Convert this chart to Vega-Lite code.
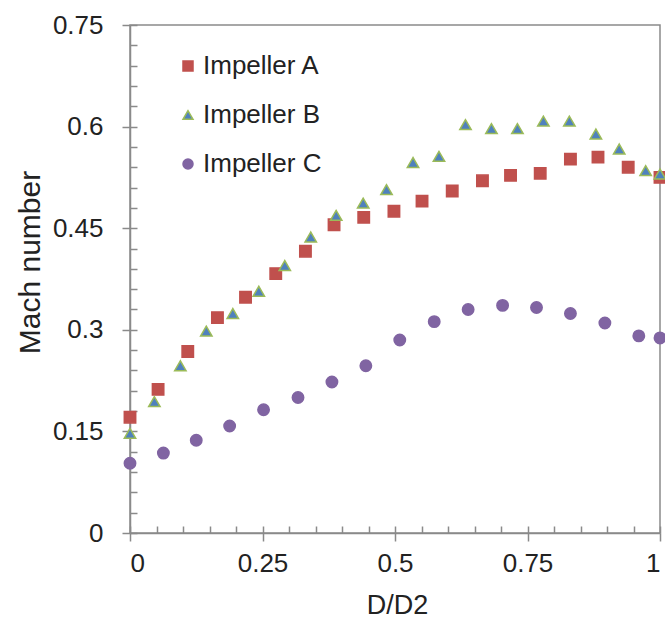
{
  "$schema": "https://vega.github.io/schema/vega-lite/v6.json",
  "width": 530,
  "height": 508,
  "autosize": {"type": "none"},
  "padding": {"left": 130, "top": 25, "right": 5, "bottom": 94},
  "background": "white",
  "config": {
    "view": {"stroke": "#8a8a8a", "strokeWidth": 1.5},
    "font": "Liberation Sans",
    "axis": {"domainColor": "#8a8a8a", "tickColor": "#8a8a8a", "domainWidth": 1.5, "tickWidth": 1.5, "grid": false}
  },
  "data": {
    "values": [
      {"series": "Impeller A", "x": 0.0, "y": 0.171},
      {"series": "Impeller A", "x": 0.053, "y": 0.212},
      {"series": "Impeller A", "x": 0.109, "y": 0.268},
      {"series": "Impeller A", "x": 0.165, "y": 0.318},
      {"series": "Impeller A", "x": 0.218, "y": 0.348},
      {"series": "Impeller A", "x": 0.275, "y": 0.383},
      {"series": "Impeller A", "x": 0.331, "y": 0.416},
      {"series": "Impeller A", "x": 0.385, "y": 0.455},
      {"series": "Impeller A", "x": 0.441, "y": 0.466},
      {"series": "Impeller A", "x": 0.498, "y": 0.475},
      {"series": "Impeller A", "x": 0.551, "y": 0.49},
      {"series": "Impeller A", "x": 0.608, "y": 0.505},
      {"series": "Impeller A", "x": 0.665, "y": 0.52},
      {"series": "Impeller A", "x": 0.718, "y": 0.528},
      {"series": "Impeller A", "x": 0.774, "y": 0.531},
      {"series": "Impeller A", "x": 0.831, "y": 0.552},
      {"series": "Impeller A", "x": 0.883, "y": 0.555},
      {"series": "Impeller A", "x": 0.94, "y": 0.54},
      {"series": "Impeller A", "x": 1.0, "y": 0.525},
      {"series": "Impeller B", "x": 0.0, "y": 0.147},
      {"series": "Impeller B", "x": 0.046, "y": 0.194},
      {"series": "Impeller B", "x": 0.095, "y": 0.247},
      {"series": "Impeller B", "x": 0.144, "y": 0.298},
      {"series": "Impeller B", "x": 0.194, "y": 0.324},
      {"series": "Impeller B", "x": 0.243, "y": 0.357},
      {"series": "Impeller B", "x": 0.292, "y": 0.395},
      {"series": "Impeller B", "x": 0.341, "y": 0.437},
      {"series": "Impeller B", "x": 0.389, "y": 0.469},
      {"series": "Impeller B", "x": 0.44, "y": 0.487},
      {"series": "Impeller B", "x": 0.484, "y": 0.507},
      {"series": "Impeller B", "x": 0.534, "y": 0.547},
      {"series": "Impeller B", "x": 0.583, "y": 0.556},
      {"series": "Impeller B", "x": 0.633, "y": 0.603},
      {"series": "Impeller B", "x": 0.682, "y": 0.597},
      {"series": "Impeller B", "x": 0.731, "y": 0.597},
      {"series": "Impeller B", "x": 0.78, "y": 0.608},
      {"series": "Impeller B", "x": 0.829, "y": 0.608},
      {"series": "Impeller B", "x": 0.879, "y": 0.589},
      {"series": "Impeller B", "x": 0.923, "y": 0.567},
      {"series": "Impeller B", "x": 0.973, "y": 0.535},
      {"series": "Impeller B", "x": 1.0, "y": 0.53},
      {"series": "Impeller C", "x": 0.0, "y": 0.103},
      {"series": "Impeller C", "x": 0.063, "y": 0.118},
      {"series": "Impeller C", "x": 0.125, "y": 0.137},
      {"series": "Impeller C", "x": 0.188, "y": 0.158},
      {"series": "Impeller C", "x": 0.252, "y": 0.182},
      {"series": "Impeller C", "x": 0.317, "y": 0.2},
      {"series": "Impeller C", "x": 0.381, "y": 0.223},
      {"series": "Impeller C", "x": 0.445, "y": 0.247},
      {"series": "Impeller C", "x": 0.509, "y": 0.285},
      {"series": "Impeller C", "x": 0.574, "y": 0.312},
      {"series": "Impeller C", "x": 0.638, "y": 0.33},
      {"series": "Impeller C", "x": 0.703, "y": 0.336},
      {"series": "Impeller C", "x": 0.767, "y": 0.333},
      {"series": "Impeller C", "x": 0.831, "y": 0.324},
      {"series": "Impeller C", "x": 0.896, "y": 0.31},
      {"series": "Impeller C", "x": 0.96, "y": 0.291},
      {"series": "Impeller C", "x": 1.0, "y": 0.288}
    ]
  },
  "layer": [
    {
      "mark": {"type": "point", "opacity": 0},
      "encoding": {
        "x": {"field": "x", "type": "quantitative", "scale": {"domain": [0, 1], "nice": false, "zero": false},
          "axis": {"orient": "bottom", "values": [0,0.05,0.1,0.15,0.2,0.25,0.3,0.35,0.4,0.45,0.5,0.55,0.6,0.65,0.7,0.75,0.8,0.85,0.9,0.95,1], "tickSize": -7, "labels": false, "domain": false, "title": null}},
        "y": {"field": "y", "type": "quantitative", "scale": {"domain": [0, 0.75], "nice": false, "zero": false},
          "axis": {"orient": "left", "values": [0,0.03,0.06,0.09,0.12,0.15,0.18,0.21,0.24,0.27,0.3,0.33,0.36,0.39,0.42,0.45,0.48,0.51,0.54,0.57,0.6,0.63,0.66,0.69,0.72,0.75], "tickSize": -7, "labels": false, "domain": false, "title": null}}
      }
    },
    {
      "mark": {"type": "point", "filled": true, "opacity": 1, "size": 130, "strokeWidth": 1.5},
      "encoding": {
        "x": {"field": "x", "type": "quantitative",
          "axis": {"orient": "bottom", "values": [0, 0.25, 0.5, 0.75, 1], "format": ".2~f", "tickSize": 8, "labelFontSize": 26, "labelColor": "#222222", "labelPadding": 9, "title": "D/D2", "titleFontSize": 27, "titleFontWeight": "normal", "titleColor": "#222222", "titleX": 267, "titleY": 72, "titleBaseline": "middle"}},
        "y": {"field": "y", "type": "quantitative",
          "axis": {"orient": "left", "values": [0, 0.15, 0.3, 0.45, 0.6, 0.75], "format": ".2~f", "tickSize": 8, "labelFontSize": 26, "labelColor": "#222222", "labelPadding": 19, "title": "Mach number", "titleFontSize": 30, "titleFontWeight": "normal", "titleColor": "#222222", "titleX": -100, "titleY": 237, "titleBaseline": "middle", "titleAlign": "center", "titleAngle": -90}},
        "shape": {"field": "series", "type": "nominal",
          "scale": {"domain": ["Impeller A", "Impeller B", "Impeller C"], "range": ["square", "triangle-up", "circle"]},
          "legend": {"title": null, "orient": "none", "legendX": 45, "legendY": 28, "labelFontSize": 26, "labelColor": "#222222", "symbolSize": 100, "rowPadding": 23, "labelOffset": 2, "symbolStrokeWidth": 1.5}},
        "fill": {"field": "series", "type": "nominal",
          "scale": {"domain": ["Impeller A", "Impeller B", "Impeller C"], "range": ["#c0504d", "#4f81bd", "#8064a2"]},
          "legend": {"title": null, "orient": "none", "legendX": 45, "legendY": 28, "labelFontSize": 26, "labelColor": "#222222", "symbolSize": 100, "rowPadding": 23, "labelOffset": 2, "symbolStrokeWidth": 1.5}},
        "stroke": {"field": "series", "type": "nominal",
          "scale": {"domain": ["Impeller A", "Impeller B", "Impeller C"], "range": ["#c0504d", "#9bbb59", "#8064a2"]},
          "legend": {"title": null, "orient": "none", "legendX": 45, "legendY": 28, "labelFontSize": 26, "labelColor": "#222222", "symbolSize": 100, "rowPadding": 23, "labelOffset": 2, "symbolStrokeWidth": 1.5}}
      }
    }
  ],
  "resolve": {"axis": {"x": "independent", "y": "independent"}}
}
